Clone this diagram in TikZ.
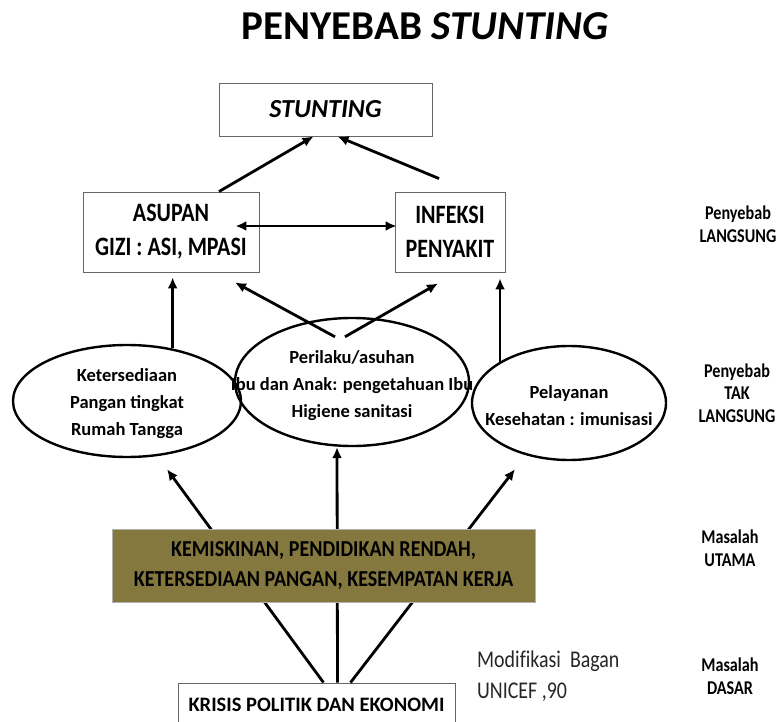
\documentclass[tikz,border=0pt]{standalone}
\usepackage{fontspec}
\setmainfont{Carlito}
\newfontfamily\sempit[FakeStretch=0.83,Ligatures=NoCommon]{Carlito}
\newfontfamily\agaksempit[FakeStretch=0.88]{Carlito}
\usetikzlibrary{shapes.geometric,arrows.meta}
\definecolor{utama}{HTML}{85783F}

\begin{document}
\begin{tikzpicture}[
x=1pt,
y=-1pt,
kotak/.style={
  draw=black!60,
  line width=0.9pt,
  align=center,
  inner sep=0pt,
  font=\sempit\bfseries\fontsize{26.5}{34}\selectfont
  },
elips/.style={
  draw,
  ellipse,
  line width=2.4pt,
  inner sep=0pt
  },
teks/.style={
  align=center,
  inner sep=0pt,
  font=\bfseries\fontsize{18.5}{27}\selectfont
  },
ket/.style={
  align=center,
  inner sep=0pt,
  font=\sempit\bfseries\fontsize{19.5}{22.5}\selectfont
  },
panah/.style={
  ->,
  line width=2.8pt
  },
>={Latex[length=11pt,width=10pt]}
]
\clip (0,0) rectangle (782,722);

\node[anchor=base, font=\bfseries\fontsize{41}{45}\selectfont] (judul) at (425,40) {PENYEBAB \textit{STUNTING}};

\node[kotak, minimum width=213pt, minimum height=53pt, font=\bfseries\itshape\fontsize{26}{30}\selectfont] (stunting) at (325.5,109.5) {STUNTING};
\node[kotak, minimum width=176pt, minimum height=80pt] (asupan) at (171,232) {ASUPAN\\GIZI : ASI, MPASI};
\node[kotak, minimum width=110pt, minimum height=80pt] (infeksi) at (450,232) {INFEKSI\\PENYAKIT};

\node[elips, minimum width=228pt, minimum height=112pt] (pangan) at (127,401) {};
\node[teks] (pangan-teks) at (127,404) {Ketersediaan\\Pangan tingkat\\Rumah Tangga};
\node[elips, minimum width=234pt, minimum height=128pt] (perilaku) at (352,382) {};
\node[teks] (perilaku-teks) at (352,386) {Perilaku/asuhan\\Ibu dan Anak: pengetahuan Ibu\\Higiene sanitasi};
\node[elips, minimum width=194pt, minimum height=114pt] (pelayanan) at (569,403) {};
\node[teks] (pelayanan-teks) at (569,406) {Pelayanan\\Kesehatan : imunisasi};

\node[kotak, minimum width=277pt, minimum height=44pt, font=\bfseries\fontsize{20.5}{30}\selectfont] (krisis) at (316.5,705) {KRISIS POLITIK DAN EKONOMI};

\draw[panah] ([xshift=48pt]asupan.north) -- ([xshift=-12pt]stunting.south);
\draw[panah] ([xshift=-11pt,yshift=13pt]infeksi.north) -- ([xshift=12pt]stunting.south);
\draw[panah,<->] ([xshift=-24pt,yshift=6pt]asupan.east) -- ([xshift=2pt,yshift=6pt]infeksi.west);

\draw[panah, shorten >=5pt] (pangan.49) -- (pangan.49 |- asupan.south);
\draw[panah] ([xshift=-17pt,yshift=-20pt]perilaku.north) -- ([xshift=64pt,yshift=-10pt]asupan.south);
\draw[panah] ([xshift=-7pt,yshift=-20pt]perilaku.north) -- ([xshift=-12pt,yshift=-11pt]infeksi.south);
\draw[panah, shorten >=6pt] (pelayanan.149) -- (pelayanan.149 |- infeksi.south);

\draw[panah] ([xshift=7pt]krisis.north) -- ([xshift=40pt,yshift=-11pt]pangan.south);
\draw[panah] ([xshift=21pt]krisis.north) -- ([xshift=-15pt]perilaku.south);
\draw[panah] ([xshift=34pt]krisis.north) -- ([xshift=-54pt,yshift=-8pt]pelayanan.south);

\node[fill=utama, draw=black!30, line width=0.6pt, align=center, minimum width=423pt, minimum height=73pt, font=\agaksempit\bfseries\fontsize{22.8}{30}\selectfont] (masalah) at (323.5,565.5) {KEMISKINAN, PENDIDIKAN RENDAH,\\KETERSEDIAAN PANGAN, KESEMPATAN KERJA};

\node[anchor=west, align=left, text=black!85, inner sep=0pt, font=\sempit\fontsize{24}{31}\selectfont] (sumber) at (477,676) {Modifikasi\ \ Bagan\\UNICEF ,90};

\node[ket] (ket-langsung) at (738,224) {Penyebab\\LANGSUNG};
\node[ket] (ket-tak) at (737,393) {Penyebab\\TAK\\LANGSUNG};
\node[ket] (ket-utama) at (730,548) {Masalah\\UTAMA};
\node[ket] (ket-dasar) at (730,676) {Masalah\\DASAR};

\end{tikzpicture}
\end{document}
